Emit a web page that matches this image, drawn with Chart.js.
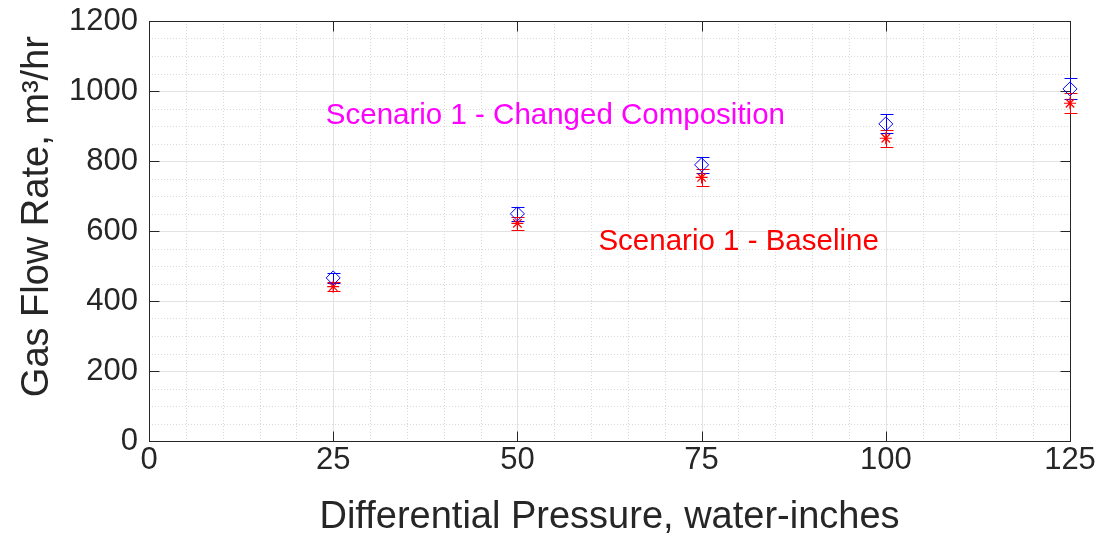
<!DOCTYPE html>
<html>
<head>
<meta charset="utf-8">
<script src="https://cdn.jsdelivr.net/npm/chart.js@4"></script>
<style>
  html, body { margin: 0; padding: 0; background: #fff; }
  #wrap { width: 1105px; height: 540px; }
</style>
</head>
<body>
<div id="wrap"><canvas id="flow"></canvas></div>
<script>
// differential pressure, water-inches
const pressure = [25, 50, 75, 100, 125];
// gas flow rate, m3/hr
const changedFlow = [466, 649, 789, 906, 1006];
const changedErr = [14, 20, 23, 27, 30];
const baselineFlow = [441, 622, 753, 865, 965];
const baselineErr = [13, 18, 23, 25, 29];

const xTicks = [0, 25, 50, 75, 100, 125];
const yTicks = [0, 200, 400, 600, 800, 1000, 1200];

const notes = [
  { x: 24, y: 930, text: 'Scenario 1 - Changed Composition', color: '#ff00ff' },
  { x: 61, y: 570, text: 'Scenario 1 - Baseline', color: '#ff0000' }
];

const FONT = '"Liberation Sans", Arial, sans-serif';
const INK = '#262626';

function toPoints(xs, ys, errs) {
  return xs.map((x, i) => ({ x: x, y: ys[i], err: errs[i] }));
}

// minor dotted grid + solid major grid under the markers
const gridPlugin = {
  id: 'grid',
  beforeDatasetsDraw(chart) {
    const { ctx, chartArea: a, scales: { x, y } } = chart;
    ctx.save();
    ctx.lineWidth = 1;
    ctx.strokeStyle = '#dadada';
    ctx.setLineDash([1, 2]);
    for (let v = 5; v < 125; v += 5) {
      if (v % 25 === 0) continue;
      const px = Math.round(x.getPixelForValue(v)) + 0.5;
      ctx.beginPath(); ctx.moveTo(px, a.top); ctx.lineTo(px, a.bottom); ctx.stroke();
    }
    for (let v = 50; v < 1200; v += 50) {
      if (v % 200 === 0) continue;
      const py = Math.round(y.getPixelForValue(v)) + 0.5;
      ctx.beginPath(); ctx.moveTo(a.left, py); ctx.lineTo(a.right, py); ctx.stroke();
    }
    ctx.setLineDash([]);
    ctx.strokeStyle = '#e3e3e3';
    xTicks.forEach(v => {
      const px = Math.round(x.getPixelForValue(v)) + 0.5;
      ctx.beginPath(); ctx.moveTo(px, a.top); ctx.lineTo(px, a.bottom); ctx.stroke();
    });
    yTicks.forEach(v => {
      const py = Math.round(y.getPixelForValue(v)) + 0.5;
      ctx.beginPath(); ctx.moveTo(a.left, py); ctx.lineTo(a.right, py); ctx.stroke();
    });
    ctx.restore();
  }
};

// vertical error bars with caps
const errorBars = {
  id: 'errorBars',
  beforeDatasetsDraw(chart) {
    const { ctx, scales: { x, y } } = chart;
    ctx.save();
    ctx.lineWidth = 1;
    chart.data.datasets.forEach(ds => {
      ctx.strokeStyle = ds.borderColor;
      ds.data.forEach(p => {
        const px = Math.round(x.getPixelForValue(p.x)) + 0.5;
        const top = Math.round(y.getPixelForValue(p.y + p.err)) + 0.5;
        const bot = Math.round(y.getPixelForValue(p.y - p.err)) + 0.5;
        ctx.beginPath();
        ctx.moveTo(px, top); ctx.lineTo(px, bot);
        ctx.moveTo(px - 6, top); ctx.lineTo(px + 7, top);
        ctx.moveTo(px - 6, bot); ctx.lineTo(px + 7, bot);
        ctx.stroke();
      });
    });
    ctx.restore();
  }
};

// box around the axes with inward ticks and the two text notes
const boxPlugin = {
  id: 'box',
  beforeDatasetsDraw(chart) {
    const { ctx, chartArea: a, scales: { x, y } } = chart;
    ctx.save();
    ctx.strokeStyle = INK;
    ctx.lineWidth = 1;
    const L = Math.round(a.left) + 0.5, R = Math.round(a.right) + 0.5;
    const T = Math.round(a.top) + 0.5, B = Math.round(a.bottom) + 0.5;
    ctx.strokeRect(L, T, R - L, B - T);
    ctx.beginPath();
    xTicks.forEach(v => {
      const px = Math.round(x.getPixelForValue(v)) + 0.5;
      ctx.moveTo(px, B); ctx.lineTo(px, B - 10);
      ctx.moveTo(px, T); ctx.lineTo(px, T + 10);
    });
    yTicks.forEach(v => {
      const py = Math.round(y.getPixelForValue(v)) + 0.5;
      ctx.moveTo(L, py); ctx.lineTo(L + 10, py);
      ctx.moveTo(R, py); ctx.lineTo(R - 10, py);
    });
    ctx.stroke();

    ctx.font = '29.5px ' + FONT;
    ctx.textAlign = 'left';
    ctx.textBaseline = 'middle';
    notes.forEach(n => {
      ctx.fillStyle = n.color;
      ctx.fillText(n.text, x.getPixelForValue(n.x), y.getPixelForValue(n.y));
    });
    ctx.restore();
  }
};

new Chart(document.getElementById('flow'), {
  type: 'scatter',
  data: {
    datasets: [
      {
        label: 'Changed Composition',
        data: toPoints(pressure, changedFlow, changedErr),
        pointStyle: 'rectRot',
        pointRadius: 7,
        borderColor: '#0000ff',
        backgroundColor: 'rgba(0,0,0,0)',
        borderWidth: 1,
        clip: false
      },
      {
        label: 'Baseline',
        data: toPoints(pressure, baselineFlow, baselineErr),
        pointStyle: 'star',
        pointRadius: 6,
        borderColor: '#ff0000',
        backgroundColor: '#ff0000',
        borderWidth: 1.2,
        clip: false
      }
    ]
  },
  options: {
    responsive: true,
    maintainAspectRatio: false,
    animation: false,
    events: [],
    layout: { padding: { top: 21, right: 35, left: 0, bottom: 0 } },
    plugins: {
      legend: { display: false },
      tooltip: { enabled: false }
    },
    scales: {
      x: {
        type: 'linear',
        min: 0,
        max: 125,
        afterBuildTicks: s => { s.ticks = xTicks.map(v => ({ value: v })); },
        afterFit: s => { s.height = 99; },
        grid: { display: false, drawTicks: false },
        border: { display: false },
        ticks: { color: INK, padding: 1, font: { family: FONT, size: 31 }, maxRotation: 0, callback: v => String(v) },
        title: {
          display: true,
          text: 'Differential Pressure, water-inches',
          color: INK,
          font: { family: FONT, size: 38 },
          padding: { top: 0, bottom: 0 }
        }
      },
      y: {
        type: 'linear',
        min: 0,
        max: 1200,
        afterBuildTicks: s => { s.ticks = yTicks.map(v => ({ value: v })); },
        afterFit: s => { s.width = 149; s.paddingTop = 0; s.paddingBottom = 0; },
        grid: { display: false, drawTicks: false },
        border: { display: false },
        ticks: { color: INK, padding: 11, font: { family: FONT, size: 31 }, callback: v => String(v) },
        title: {
          display: true,
          text: '  \u2009Gas Flow Rate, m³/hr',
          color: INK,
          font: { family: FONT, size: 38 },
          padding: { top: 15, bottom: 0 }
        }
      }
    }
  },
  plugins: [gridPlugin, boxPlugin, errorBars]
});
</script>
</body>
</html>
